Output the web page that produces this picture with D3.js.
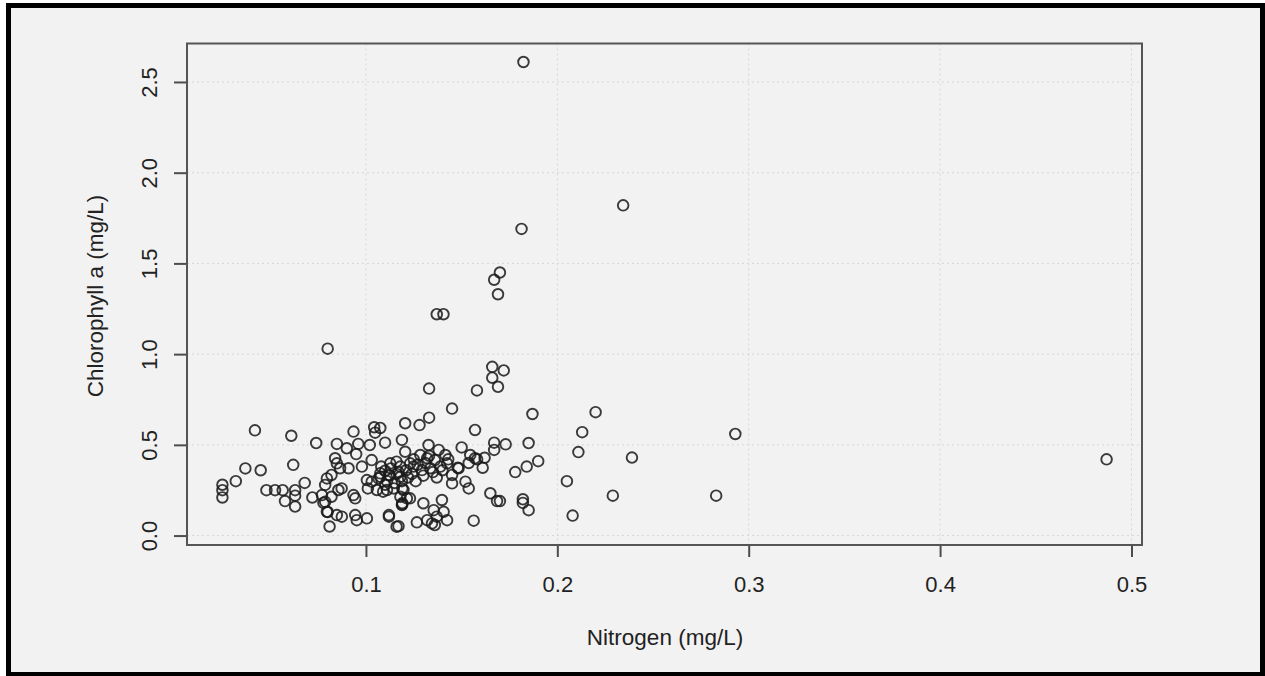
<!DOCTYPE html>
<html>
<head>
<meta charset="utf-8">
<script src="https://cdn.jsdelivr.net/npm/d3@7"></script>
<style>
  body { margin: 0; background: #ffffff; }
  text { font-family: "Liberation Sans", Arial, sans-serif; fill: #222; }
</style>
</head>
<body>
<div id="scatter"></div>
<script>
// Data: nitrogen (x) and chlorophyll a (y), mg/L
var nitrogen = [
  0.1823, 0.2344, 0.1813, 0.170, 0.167, 0.169, 0.137, 0.1405, 0.080,
  0.166, 0.172, 0.166, 0.169, 0.133, 0.158, 0.145, 0.220, 0.187,
  0.293, 0.213, 0.487, 0.239, 0.211, 0.190, 0.205, 0.208, 0.229, 0.283,
  0.185, 0.184, 0.178, 0.182, 0.182, 0.185,
  0.042, 0.061, 0.074, 0.037, 0.045, 0.032, 0.025, 0.025, 0.025,
  0.048, 0.0525, 0.0565, 0.062, 0.068, 0.0577, 0.063, 0.063, 0.063,
  0.072, 0.0778, 0.080, 0.081,
  0.0935, 0.1043, 0.1048, 0.0848, 0.090, 0.096, 0.102, 0.110,
  0.0949, 0.0839, 0.0848, 0.0865, 0.0909, 0.0979, 0.103, 0.1127, 0.116,
  0.0796, 0.082, 0.0787, 0.077, 0.0787, 0.082, 0.0856, 0.0873,
  0.0935, 0.0944, 0.1005, 0.103, 0.1066, 0.101, 0.1057, 0.111,
  0.1075, 0.112, 0.0796, 0.0848, 0.0874, 0.0952, 0.1005, 0.0944,
  0.112, 0.116,
  0.1205, 0.128, 0.133, 0.157, 0.1075, 0.1188, 0.1205, 0.1327, 0.138, 0.1415,
  0.150, 0.1545, 0.157, 0.162, 0.1284, 0.132, 0.136, 0.1231, 0.1249,
  0.1293, 0.1336, 0.1389, 0.1424, 0.110, 0.1125, 0.116, 0.1188, 0.1101, 0.1145,
  0.145, 0.1484, 0.1537, 0.1581, 0.145, 0.152, 0.1537, 0.109, 0.1196, 0.1214,
  0.1188, 0.130, 0.1397, 0.1354, 0.1406, 0.1424, 0.112, 0.117, 0.1266,
  0.132, 0.1345, 0.136, 0.1563, 0.167, 0.167, 0.173, 0.161, 0.148,
  0.165, 0.1685, 0.170, 0.137, 0.123, 0.119, 0.1075, 0.118, 0.119, 0.118, 0.119,
  0.113, 0.117, 0.121, 0.124, 0.127, 0.131, 0.135, 0.140, 0.122, 0.126,
  0.130, 0.137, 0.118, 0.108, 0.111, 0.115, 0.125, 0.133, 0.143
];
var chlorophyll = [
  2.61, 1.82, 1.69, 1.45, 1.41, 1.33, 1.22, 1.22, 1.03,
  0.93, 0.91, 0.87, 0.82, 0.81, 0.80, 0.70, 0.68, 0.67,
  0.56, 0.57, 0.42, 0.43, 0.46, 0.41, 0.30, 0.11, 0.22, 0.22,
  0.51, 0.38, 0.35, 0.20, 0.18, 0.14,
  0.58, 0.55, 0.51, 0.37, 0.36, 0.30, 0.28, 0.25, 0.21,
  0.25, 0.25, 0.25, 0.39, 0.29, 0.19, 0.25, 0.22, 0.16,
  0.21, 0.18, 0.13, 0.05,
  0.573, 0.597, 0.567, 0.505, 0.481, 0.505, 0.499, 0.512,
  0.449, 0.426, 0.398, 0.371, 0.371, 0.38, 0.416, 0.398, 0.407,
  0.315, 0.334, 0.279, 0.223, 0.186, 0.214, 0.251, 0.26,
  0.223, 0.205, 0.306, 0.297, 0.315, 0.26, 0.251, 0.251,
  0.343, 0.334, 0.131, 0.113, 0.104, 0.085, 0.095, 0.113,
  0.104, 0.049,
  0.619, 0.609, 0.65, 0.582, 0.593, 0.527, 0.462, 0.499, 0.472, 0.444,
  0.486, 0.444, 0.426, 0.429, 0.444, 0.426, 0.416, 0.398, 0.38,
  0.361, 0.371, 0.38, 0.398, 0.357, 0.33, 0.34, 0.30, 0.28, 0.26,
  0.334, 0.371, 0.40, 0.42, 0.288, 0.297, 0.26, 0.242, 0.251, 0.205,
  0.168, 0.178, 0.196, 0.14, 0.131, 0.085, 0.113, 0.052, 0.073,
  0.085, 0.067, 0.058, 0.082, 0.512, 0.472, 0.503, 0.374, 0.374,
  0.233, 0.19, 0.19, 0.104, 0.205, 0.178, 0.324, 0.324, 0.26, 0.214, 0.172,
  0.37, 0.35, 0.36, 0.34, 0.39, 0.40, 0.35, 0.36, 0.32, 0.30,
  0.33, 0.32, 0.38, 0.38, 0.30, 0.29, 0.42, 0.44, 0.42
];
var xTicks = [0.1, 0.2, 0.3, 0.4, 0.5];
var yTicks = [0.0, 0.5, 1.0, 1.5, 2.0, 2.5];

var points = nitrogen.map(function(d, i) {
  return { n: d, c: chlorophyll[i] };
});

// Set up chart
var svgWidth = 1265;
var svgHeight = 676;

var box = { left: 187, top: 43.5, right: 1142, bottom: 545 };

var svg = d3.select("#scatter")
  .append("svg")
  .attr("width", svgWidth)
  .attr("height", svgHeight);

// outer frame
svg.append("rect")
  .attr("x", 8.5)
  .attr("y", 5.5)
  .attr("width", 1254)
  .attr("height", 669)
  .attr("fill", "#f2f2f2")
  .attr("stroke", "#000")
  .attr("stroke-width", 5);

// Scales (R style 4% padding on data range)
var xScale = d3.scaleLinear()
  .domain([0.0065, 0.5055])
  .range([box.left, box.right]);

var yScale = d3.scaleLinear()
  .domain([-0.052, 2.712])
  .range([box.bottom, box.top]);

// dotted grid
var grid = svg.append("g")
  .attr("stroke", "#d6d6d6")
  .attr("stroke-width", 1)
  .attr("stroke-dasharray", "2,3");

grid.selectAll(".vgrid")
  .data(xTicks)
  .enter()
  .append("line")
  .attr("x1", d => xScale(d))
  .attr("x2", d => xScale(d))
  .attr("y1", box.top)
  .attr("y2", box.bottom);

grid.selectAll(".hgrid")
  .data(yTicks)
  .enter()
  .append("line")
  .attr("x1", box.left)
  .attr("x2", box.right)
  .attr("y1", d => yScale(d))
  .attr("y2", d => yScale(d));

// Axes
var bottomAxis = d3.axisBottom(xScale)
  .tickValues(xTicks)
  .tickSize(12)
  .tickFormat(d3.format(".1f"));

var leftAxis = d3.axisLeft(yScale)
  .tickValues(yTicks)
  .tickSize(13)
  .tickFormat(d3.format(".1f"));

var xAxisG = svg.append("g")
  .attr("transform", `translate(0, ${box.bottom})`)
  .call(bottomAxis);

xAxisG.select(".domain").remove();
xAxisG.selectAll("line")
  .attr("stroke", "#4d4d4d")
  .attr("stroke-width", 2);
xAxisG.selectAll("text")
  .attr("dy", null)
  .attr("y", 47)
  .attr("fill", "#222")
  .style("font-size", "22px")
  .style("font-family", "Liberation Sans, Arial, sans-serif");

var yAxisG = svg.append("g")
  .attr("transform", `translate(${box.left}, 0)`)
  .call(leftAxis);

yAxisG.select(".domain").remove();
yAxisG.selectAll("line")
  .attr("stroke", "#4d4d4d")
  .attr("stroke-width", 2);
yAxisG.selectAll("text")
  .attr("x", null)
  .attr("dy", null)
  .attr("transform", "translate(-30, 0) rotate(-90)")
  .attr("text-anchor", "middle")
  .attr("fill", "#222")
  .style("font-size", "22px")
  .style("font-family", "Liberation Sans, Arial, sans-serif");

// plot box
svg.append("rect")
  .attr("x", box.left)
  .attr("y", box.top)
  .attr("width", box.right - box.left)
  .attr("height", box.bottom - box.top)
  .attr("fill", "none")
  .attr("stroke", "#555")
  .attr("stroke-width", 2);

// Circles
svg.append("g")
  .selectAll("circle")
  .data(points)
  .enter()
  .append("circle")
  .attr("cx", d => xScale(d.n))
  .attr("cy", d => yScale(d.c))
  .attr("r", 5.3)
  .attr("fill", "none")
  .attr("stroke", "#1a1a1a")
  .attr("stroke-opacity", 0.85)
  .attr("stroke-width", 1.9);

// axes labels
svg.append("text")
  .attr("transform", `translate(665, 645)`)
  .attr("text-anchor", "middle")
  .style("font-size", "22.5px")
  .text("Nitrogen (mg/L)");

svg.append("text")
  .attr("transform", "translate(103, 296) rotate(-90)")
  .attr("text-anchor", "middle")
  .style("font-size", "22.5px")
  .text("Chlorophyll a (mg/L)");
</script>
</body>
</html>
